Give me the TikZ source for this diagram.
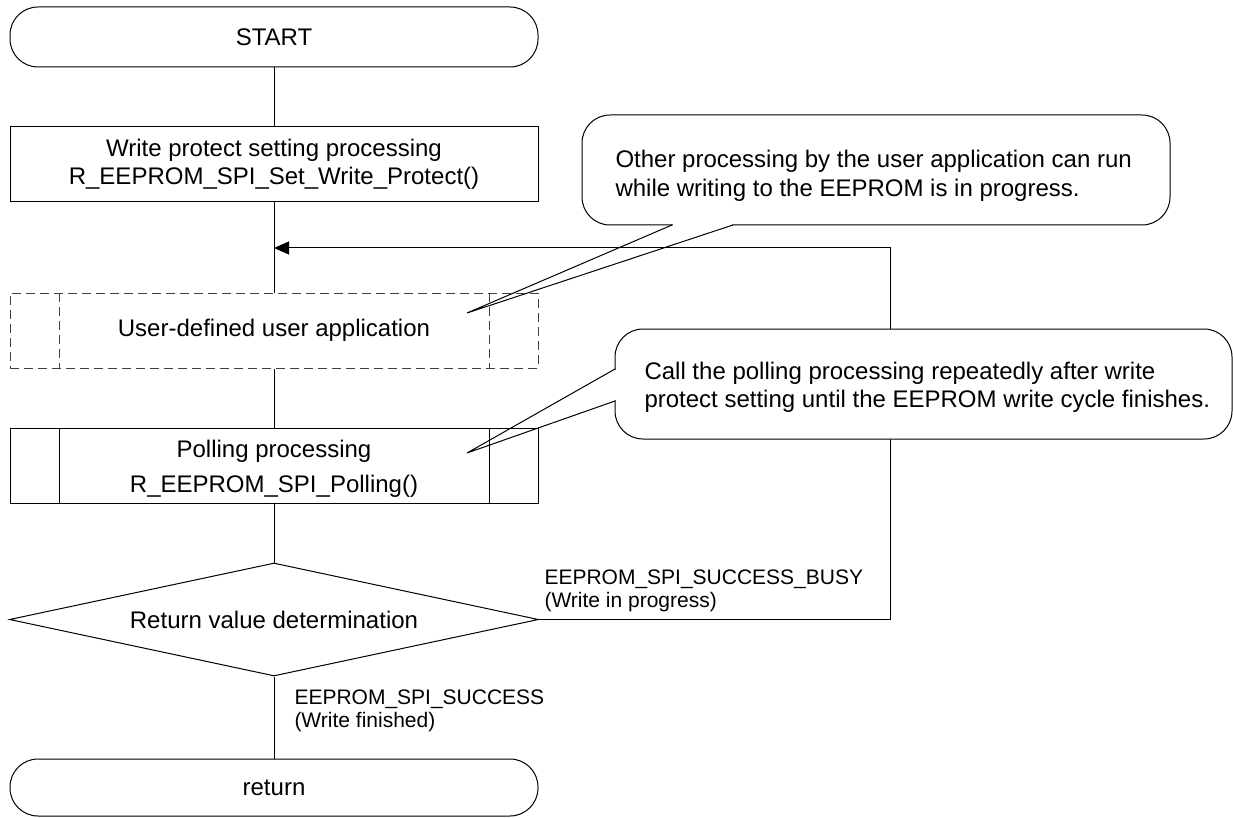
\documentclass[tikz,border=0pt]{standalone}
\usepackage{fontspec}
\setmainfont{Liberation Sans}
\usetikzlibrary{shapes.geometric,arrows.meta}
\begin{document}
\begin{tikzpicture}[x=1pt,y=-1pt,
  line width=1pt,
  font=\fontsize{24}{28.5}\selectfont,
  term/.style={draw,rectangle,rounded corners=28pt,minimum width=528pt,minimum height=60pt,inner sep=0pt},
  proc/.style={draw,rectangle,minimum width=528pt,minimum height=75pt,inner sep=0pt,align=center},
  decision/.style={draw,diamond,aspect=4.68,minimum width=529pt,minimum height=113pt,inner sep=0pt},
  dashedline/.style={dash pattern=on 9pt off 5pt,draw=black!75},
  lbl/.style={font=\fontsize{21}{23.5}\selectfont,align=left,inner sep=0pt,anchor=north west},
  note/.style={font=\fontsize{24}{28.5}\selectfont,align=left,inner sep=0pt,anchor=north west},
  bubble/.style={draw,fill=white,rounded corners=28pt},
  flow/.style={draw},
  loopflow/.style={draw,-{Triangle[length=15pt,width=13pt]}},
]
\useasboundingbox (0,0) rectangle (1233,818);

% flowchart nodes
\node[term] (start) at (274,37) {START};
\node[proc] (wp) at (274,164.5) {Write protect setting processing\\R\_EEPROM\_SPI\_Set\_Write\_Protect()};
\node[proc,dashedline] (ua) at (274,330.5) {User-defined user application};
\node[proc] (poll) at (274,465.5) {};
\node[align=center,inner sep=0pt] (polltxt) at ([yshift=-3.5pt]poll.center) {Polling processing\\[6.5pt]R\_EEPROM\_SPI\_Polling()};
\node[decision] (dec) at (274,619.5) {Return value determination};
\node[term,minimum height=57pt] (ret) at (274,787.5) {return};

% predefined-process inner lines
\draw[dashedline] ([xshift=50pt]ua.north west) -- ([xshift=50pt]ua.south west);
\draw[dashedline] ([xshift=-49pt]ua.north east) -- ([xshift=-49pt]ua.south east);
\draw ([xshift=50pt]poll.north west) -- ([xshift=50pt]poll.south west);
\draw ([xshift=-49pt]poll.north east) -- ([xshift=-49pt]poll.south east);

% connectors
\coordinate (join) at (274,248);
\coordinate (loopc) at (890,248);
\draw[flow] (start) -- (wp);
\draw[flow] (wp) -- (ua);
\draw[flow] (ua) -- (poll);
\draw[flow] (poll) -- (dec);
\draw[flow] (dec) -- (ret);
\draw[loopflow] (dec.east) -| (loopc) -- (join);

% branch labels
\node[lbl] (busy) at (544,569) {EEPROM\_SPI\_SUCCESS\_BUSY\\(Write in progress)};
\node[lbl] (succ) at (294,689) {EEPROM\_SPI\_SUCCESS\\(Write finished)};

% callout 1
\coordinate (tip1) at (467,313);
\coordinate (b1a) at (672,225);
\coordinate (b1b) at (733,225);
\draw[bubble] (582,115) rectangle (1170,225);
\fill[white] (673,222.5) rectangle (732,227.5);
\draw (b1a) -- (tip1) -- (b1b);
\node[note] (n1) at (615,150) {Other processing by the user application can run\\while writing to the EEPROM is in progress.};

% callout 2
\coordinate (tip2) at (467,453);
\coordinate (b2a) at (615,369);
\coordinate (b2b) at (615,401);
\draw[bubble] (615,329) rectangle (1232,439);
\fill[white] (612.5,370) rectangle (617.5,400);
\draw (b2a) -- (tip2) -- (b2b);
\node[note] (n2) at (644,361.5) {Call the polling processing repeatedly after write\\protect setting until the EEPROM write cycle finishes.};
\end{tikzpicture}
\end{document}
